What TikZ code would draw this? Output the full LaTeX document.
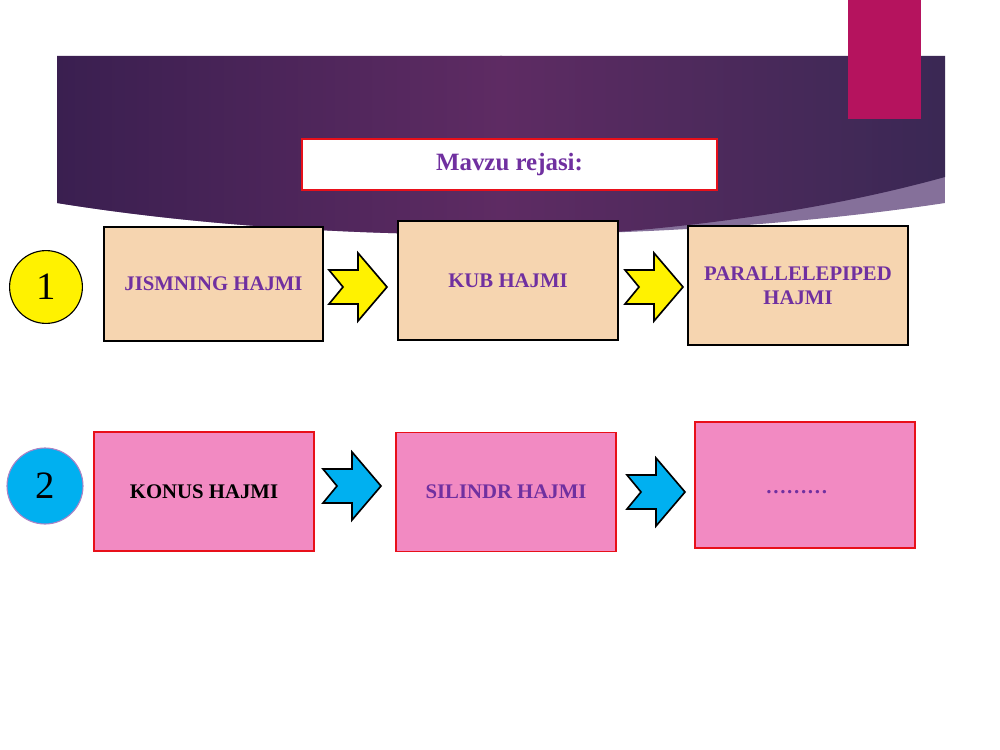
\documentclass[tikz,border=0pt]{standalone}
\usepackage{fontspec}
\setmainfont{Liberation Serif}
\definecolor{plum}{HTML}{7030A0}
\definecolor{tanfill}{HTML}{F6D5B0}
\definecolor{pinkfill}{HTML}{F28AC2}
\definecolor{boxred}{HTML}{E8101A}
\definecolor{skyblue}{HTML}{00B0F0}
\definecolor{tabmag}{HTML}{B5135E}
\definecolor{bandleft}{HTML}{3A1F50}
\definecolor{bandmid}{HTML}{5E2B63}
\definecolor{bandright}{HTML}{3A2854}
\definecolor{bandlight}{HTML}{85709A}
\tikzset{
	head/.style = {shape=rectangle, draw=boxred, line width=2pt, fill=white, align=center, inner sep=0pt, minimum width=10.54cm, minimum height=1.3cm, font=\fontsize{18}{21}\selectfont\bfseries, text=plum},
	topic/.style = {shape=rectangle, draw=black, line width=1.5pt, fill=tanfill, align=center, inner sep=0pt, minimum width=5.59cm, minimum height=3.02cm, font=\fontsize{15}{17.3}\selectfont\bfseries, text=plum},
	subtopic/.style = {topic, draw=boxred, line width=1.3pt, fill=pinkfill},
	num/.style = {shape=circle, draw, line width=0.8pt, inner sep=0pt, minimum size=1.85cm, font=\fontsize{28}{30}\selectfont},
	notch/.pic = {\path[pic actions] (-29,-17) -- (0,-17) -- (0,-34) -- (29,0) -- (0,34) -- (0,17) -- (-29,17) -- (-15,0) -- cycle;},
}

\begin{document}
\begin{tikzpicture}[x=0.7227pt, y=-0.7227pt]
		\fill[white] (0,0) rectangle (1000,750);
		\useasboundingbox (0,0) rectangle (1000,750);

		\begin{scope}
			\clip (57,56) -- (945,56) -- (945,203) .. controls (700,240) and (350,250) .. (57,203) -- cycle;
			\fill[bandlight] (57,56) rectangle (945,260);
			\clip (57,56) -- (945,56) -- (945,177) .. controls (700,245) and (350,260) .. (57,210) -- cycle;
			\shade[left color=bandleft, right color=bandmid] (56,56) rectangle (502,260);
			\shade[left color=bandmid, right color=bandright] (500,56) rectangle (946,260);
		\end{scope}
		\fill[tabmag] (848,0) rectangle (921,119);

		\node[head] (title) at (509.5,164.5) {Mavzu rejasi:};

		\node[num, fill=yellow] (one) at (46,287) {1};
		\node[topic, minimum height=2.9cm, minimum width=5.56cm] (jism) at (213.5,284) {JISMNING HAJMI};
		\node[topic] (kub) at (508,280.5) {KUB HAJMI};
		\node[topic] (para) at (798,285.5) {PARALLELEPIPED\\HAJMI};

		\node[num, fill=skyblue, draw=plum!60, minimum size=1.93cm] (two) at (45,486) {2};
		\node[subtopic, text=black] (konus) at (204,491.5) {KONUS HAJMI};
		\node[subtopic] (silindr) at (506,492) {SILINDR HAJMI};
		\node[subtopic, minimum height=3.2cm] (more) at (805,485) {\raisebox{-6pt}[0pt][0pt]{………}\hspace*{12pt}};

		\pic[fill=yellow, draw=black, line width=1.2pt] at (358,287) {notch};
		\pic[fill=yellow, draw=black, line width=1.2pt] at (654,287) {notch};
		\pic[fill=skyblue, draw=black, line width=1.2pt] at (352,486) {notch};
		\pic[fill=skyblue, draw=black, line width=1.2pt] at (656,492) {notch};
	\end{tikzpicture}
\end{document}
